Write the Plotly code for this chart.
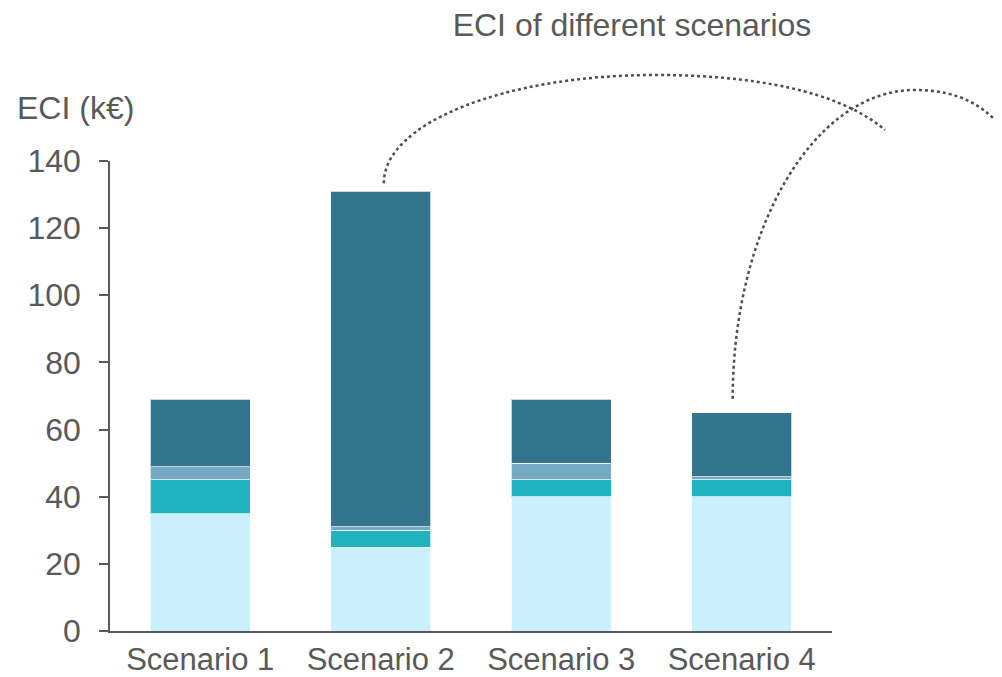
import plotly.graph_objects as go

categories = ["Scenario 1", "Scenario 2", "Scenario 3", "Scenario 4"]
seg_base = [35, 25, 40, 40]
seg_teal = [10, 5, 5, 5]
seg_grey = [4, 1, 5, 1]
seg_dark = [20, 100, 19, 19]
y_ticks = [0, 20, 40, 60, 80, 100, 120, 140]

colors = ["#CBF0FD", "#20B3BF", "#73A9C2", "#32758C"]
series = [seg_base, seg_teal, seg_grey, seg_dark]

OFF = 8  # page body margin offset
W, H = 1002 - OFF, 677 - OFF
# target plot area on screen: x 110..832, y 161..631
L = 110 - OFF
T = 161 - OFF
pw = 722
ph = 470
R = W - L - pw
B = H - T - ph
FONT = "Liberation Sans, Arial, sans-serif"
TXT = "#595959"
FS = 32

fig = go.Figure()
for vals, col in zip(series, colors):
    fig.add_trace(go.Bar(
        x=categories, y=vals, marker_color=col,
        marker_line=dict(color="rgba(255,255,255,0.7)", width=1),
        showlegend=False, hoverinfo="skip"))

totals = [a + b + c + d for a, b, c, d in zip(*series)]
ymax = 140

def to_paper(px, py):
    # px, py are screen pixel positions
    return ((px - 110) / pw, (631 - py) / ph)

def path(points):
    pts = [to_paper(x, y) for x, y in points]
    s = "M {:.4f},{:.4f}".format(*pts[0])
    for i in range(1, len(pts), 3):
        s += " C {:.4f},{:.4f} {:.4f},{:.4f} {:.4f},{:.4f}".format(*pts[i], *pts[i + 1], *pts[i + 2])
    return s

def bar_top_px(i, offset_px):
    cx = 110 + (i + 0.5) * pw / len(categories)
    cy = 631 - totals[i] / ymax * ph - offset_px
    return cx, cy

# callout curve 1 from Scenario 2
sx, sy = bar_top_px(1, 8)
sx += 3
c1 = [(sx, sy), (sx, 123), (505, 75), (655, 75),
      (780, 75), (850, 100), (885, 130)]
# callout curve 2 from Scenario 4
sx2, sy2 = bar_top_px(3, 14)
sx2 -= 9
c2 = [(sx2, sy2), (sx2, 228), (814, 90), (915, 90),
      (960, 90), (985, 107), (1002, 128)]
for c in (c1, c2):
    fig.add_shape(type="path", path=path(c), xref="paper", yref="paper",
                  line=dict(color="#4D4D4D", width=2.5, dash="dot"), layer="above")

ax, ay = to_paper(75, 108)
fig.add_annotation(text="ECI (k€)", xref="paper", yref="paper",
                   x=ax, y=ay, showarrow=False,
                   xanchor="center", yanchor="middle",
                   font=dict(size=FS, color=TXT, family=FONT))

fig.update_layout(
    template="none",
    width=W, height=H,
    margin=dict(l=L, r=R, t=T, b=B, autoexpand=False),
    paper_bgcolor="white", plot_bgcolor="white",
    barmode="stack", bargap=0.446,
    font=dict(family=FONT, size=FS, color=TXT),
    title=dict(text="ECI of different scenarios", x=(632 - OFF) / W, xanchor="center",
               y=1 - (25 - OFF) / H, yanchor="middle", automargin=False,
               font=dict(size=FS, color=TXT, family=FONT)),
    xaxis=dict(showline=True, linecolor="#595959", linewidth=2, ticks="",
               showgrid=False, zeroline=False, automargin=False,
               tickfont=dict(size=31, color=TXT), ticklabelstandoff=0),
    yaxis=dict(range=[0, ymax], tickvals=y_ticks, showline=True, linecolor="#595959",
               linewidth=1.5, ticks="outside", ticklen=9, tickcolor="#595959",
               tickwidth=1.5, showgrid=False, zeroline=False, automargin=False,
               tickfont=dict(size=FS, color=TXT), ticklabelstandoff=12),
)

fig.write_html("out.html")
